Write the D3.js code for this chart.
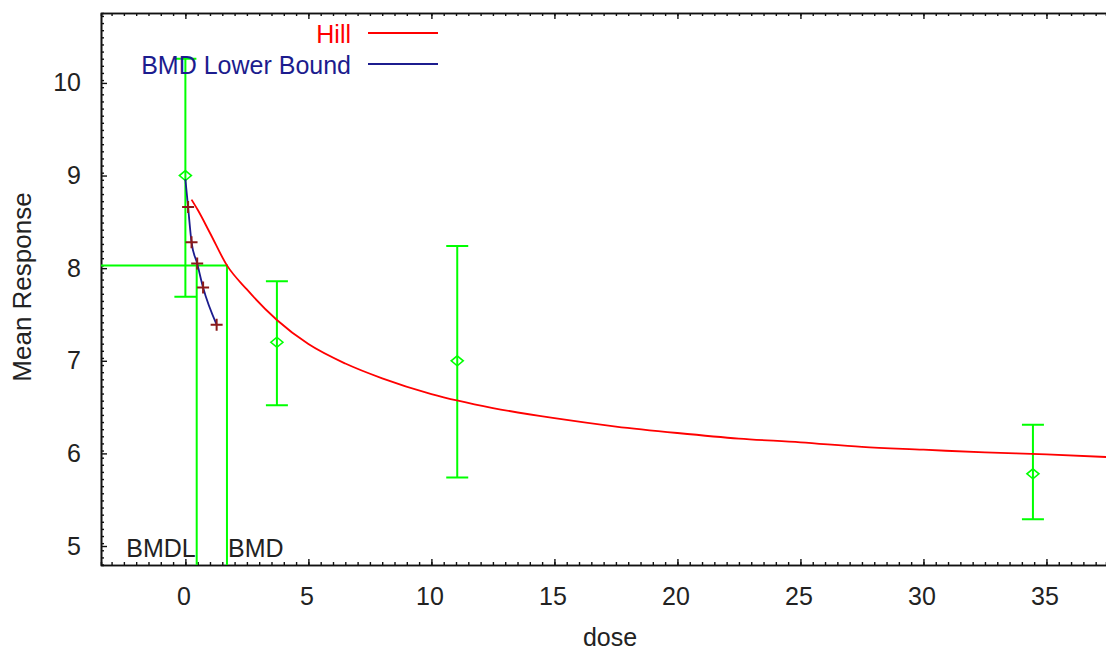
<!DOCTYPE html>
<html>
<head>
<meta charset="utf-8">
<script src="https://cdn.jsdelivr.net/npm/d3@7"></script>
<style>
  body { margin: 0; background: #fff; }
  svg { display: block; font-family: "Liberation Sans", Arial, sans-serif; }
</style>
</head>
<body>
<svg id="chart" width="1106" height="651"></svg>
<script>
// observed data (dose groups)
const doses = [0, 3.72, 11.05, 34.45];
const means = [9.0, 7.2, 7.0, 5.78];
const upper = [10.26, 7.86, 8.24, 6.31];
const lower = [7.69, 6.52, 5.74, 5.29];

// fitted Hill curve
const hillDose = [0.25, 0.5, 1.0, 1.69, 2.5, 3.72, 5, 6.5, 8, 10, 12.5, 15, 17.5, 20, 22.5, 25, 27.5, 30, 32.5, 35, 37.5];
const hillResp = [8.74, 8.63, 8.38, 8.03, 7.77, 7.44, 7.18, 6.97, 6.81, 6.64, 6.49, 6.38, 6.29, 6.22, 6.16, 6.12, 6.07, 6.04, 6.01, 5.99, 5.96];

// BMD lower bound curve and its markers
const bmdlDose = [0, 0.11, 0.25, 0.48, 0.72, 1.27];
const bmdlResp = [8.96, 8.66, 8.28, 8.05, 7.79, 7.39];
const crossDose = [0.11, 0.25, 0.48, 0.72, 1.27];
const crossResp = [8.66, 8.28, 8.05, 7.79, 7.39];

const bmd = 1.69;
const bmdl = 0.46;
const bmr = 8.03;

const xTicks = [0, 5, 10, 15, 20, 25, 30, 35];
const yTicks = [5, 6, 7, 8, 9, 10];

const legendNames = ['Hill', 'BMD Lower Bound'];
const legendColors = ['#ff0000', '#1c1c8e'];

const svg = d3.select('#chart');
const padL = 101, padT = 13, padR = 1106, padB = 565;

const x = d3.scaleLinear().domain([-3.43, 37.42]).range([padL, padR]);
const y = d3.scaleLinear().domain([4.795, 10.755]).range([padB, padT]);

const green = '#00ff00';
const textCol = '#222';
const fontSize = '25px';

svg.append('defs').append('clipPath').attr('id', 'plot')
  .append('rect').attr('x', padL).attr('y', padT).attr('width', padR - padL).attr('height', padB - padT);

// axes with inward ticks
const minorX = d3.range(-3, 37.5, 0.5);
const minorY = d3.range(4.8, 10.76, 1 / 13);

function styleAxis(g) {
  g.select('.domain').attr('stroke', '#111').attr('stroke-width', 1.6);
  g.selectAll('.tick line').attr('stroke', '#111').attr('stroke-width', 1.4);
  g.selectAll('text').attr('fill', textCol).style('font-size', fontSize);
}

svg.append('g').attr('transform', `translate(0,${padB})`)
  .call(d3.axisBottom(x).tickValues(minorX).tickSize(-3).tickFormat(''))
  .call(styleAxis);
svg.append('g').attr('transform', `translate(0,${padB})`)
  .call(d3.axisBottom(x).tickValues(xTicks).tickSize(-6).tickPadding(22).tickSizeOuter(0).tickFormat(d3.format('d')))
  .call(styleAxis)
  .selectAll('text').attr('dx', -2);

svg.append('g').attr('transform', `translate(0,${padT})`)
  .call(d3.axisTop(x).tickValues(minorX).tickSize(-3).tickFormat(''))
  .call(styleAxis);
svg.append('g').attr('transform', `translate(0,${padT})`)
  .call(d3.axisTop(x).tickValues(xTicks).tickSize(-6).tickFormat('').tickSizeOuter(0))
  .call(styleAxis);

svg.append('g').attr('transform', `translate(${padL},0)`)
  .call(d3.axisLeft(y).tickValues(minorY).tickSize(-3).tickFormat(''))
  .call(styleAxis);
svg.append('g').attr('transform', `translate(${padL},0)`)
  .call(d3.axisLeft(y).tickValues(yTicks).tickSize(-6).tickPadding(20).tickSizeOuter(0).tickFormat(d3.format('d')))
  .call(styleAxis);

// axis titles
svg.append('text').attr('x', 610).attr('y', 646).attr('text-anchor', 'middle')
  .attr('fill', textCol).style('font-size', fontSize).text('dose');
svg.append('text').attr('transform', 'translate(31,287) rotate(-90)').attr('text-anchor', 'middle')
  .attr('fill', textCol).style('font-size', '26px').text('Mean Response');

const plot = svg.append('g').attr('clip-path', 'url(#plot)');

// BMD / BMDL reference lines
plot.append('path')
  .attr('d', `M${padL},${y(bmr)}H${x(bmd)}V${padB}M${x(bmdl)},${y(bmr)}V${padB}`)
  .attr('fill', 'none').attr('stroke', green).attr('stroke-width', 2);

// error bars
doses.forEach((d, i) => {
  const cx = x(d);
  plot.append('path')
    .attr('d', `M${cx},${y(upper[i])}V${y(lower[i])}M${cx - 11},${y(upper[i])}H${cx + 11}M${cx - 11},${y(lower[i])}H${cx + 11}`)
    .attr('fill', 'none').attr('stroke', green).attr('stroke-width', 2);
  plot.append('path')
    .attr('d', `M${cx},${y(means[i]) - 5}L${cx + 6},${y(means[i])}L${cx},${y(means[i]) + 5}L${cx - 6},${y(means[i])}Z`)
    .attr('fill', 'none').attr('stroke', green).attr('stroke-width', 1.6);
});

// Hill curve
const line = d3.line().x(d => x(d[0])).y(d => y(d[1])).curve(d3.curveMonotoneX);
plot.append('path')
  .attr('d', line(hillDose.map((d, i) => [d, hillResp[i]])))
  .attr('fill', 'none').attr('stroke', '#ff0000').attr('stroke-width', 1.8);

// BMDL curve
plot.append('path')
  .attr('d', line(bmdlDose.map((d, i) => [d, bmdlResp[i]])))
  .attr('fill', 'none').attr('stroke', '#1c1c8e').attr('stroke-width', 1.8);

crossDose.forEach((d, i) => {
  const cx = x(d), cy = y(crossResp[i]);
  plot.append('path')
    .attr('d', `M${cx - 6},${cy}H${cx + 6}M${cx},${cy - 6}V${cy + 6}`)
    .attr('stroke', '#8b1a1a').attr('stroke-width', 2);
});

// BMD labels
svg.append('text').attr('x', x(bmdl) - 1).attr('y', 557).attr('text-anchor', 'end')
  .attr('fill', textCol).style('font-size', fontSize).text('BMDL');
svg.append('text').attr('x', x(bmd) + 1).attr('y', 557)
  .attr('fill', textCol).style('font-size', fontSize).text('BMD');

// legend
const legend = svg.append('g');
legendNames.forEach((name, i) => {
  const ly = 33 + i * 31;
  legend.append('text').attr('x', 351).attr('y', ly + 10).attr('text-anchor', 'end')
    .attr('fill', legendColors[i]).style('font-size', fontSize).text(name);
  legend.append('line').attr('x1', 368).attr('x2', 438).attr('y1', ly).attr('y2', ly)
    .attr('stroke', legendColors[i]).attr('stroke-width', 1.8);
});
</script>
</body>
</html>
